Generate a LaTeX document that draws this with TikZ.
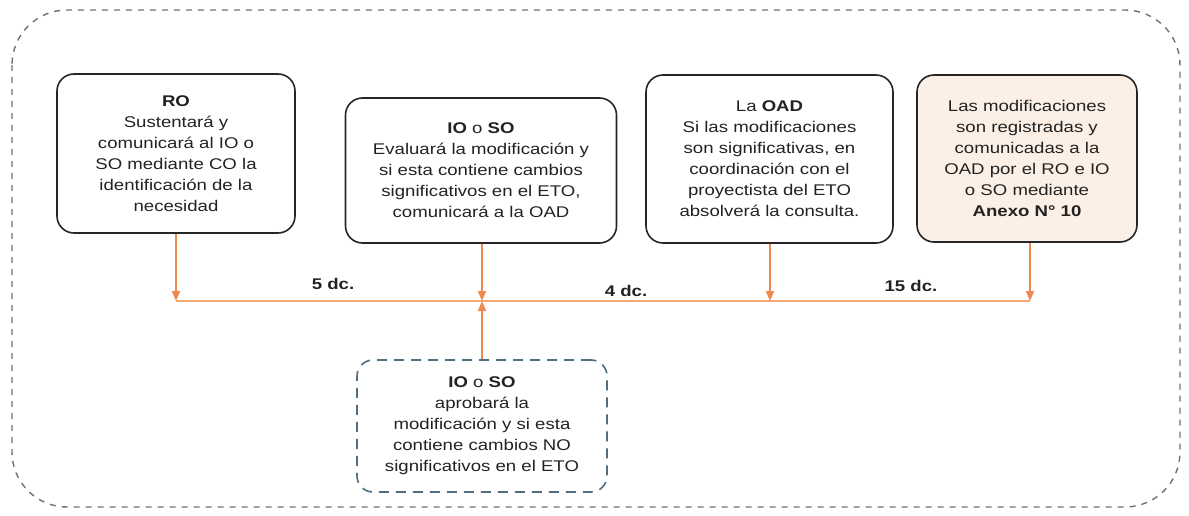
\documentclass[tikz,border=0pt]{standalone}
\usepackage{fontspec}
\setmainfont[FakeStretch=1.2]{Liberation Sans}
\usetikzlibrary{arrows.meta}
\definecolor{txt}{HTML}{222222}
\definecolor{orl}{HTML}{F3A877}
\definecolor{ora}{HTML}{EE8A50}
\definecolor{peach}{HTML}{FCF0E6}
\definecolor{bluedash}{HTML}{4F6E80}
\definecolor{outer}{HTML}{707070}
\tikzset{
  box/.style={draw=black!85, line width=1.6pt, rounded corners=17pt, align=center,
    text=txt, font=\fontsize{15.5}{21}\selectfont, inner sep=0pt},
  dbox/.style={draw=bluedash, line width=1.6pt, dash pattern=on 10pt off 7pt,
    rounded corners=16pt, align=center, text=txt, font=\fontsize{15.5}{21}\selectfont, inner sep=0pt},
  conn/.style={draw=ora, line width=1.5pt, -{Triangle[length=10pt,width=8pt]}},
  lbl/.style={font=\fontsize{15.5}{18}\selectfont\bfseries, text=txt},
}
\begin{document}
\begin{tikzpicture}[x=1pt,y=-1pt]
\useasboundingbox (0,0) rectangle (1189,516);
\draw[outer, line width=1.4pt, dash pattern=on 6pt off 6pt, rounded corners=55pt] (12,10) rectangle (1180,507);

\node[box, minimum width=238pt, minimum height=159pt] (ro) at (176,153.5)
  {\textbf{RO}\\Sustentará y\\comunicará al IO o\\SO mediante CO la\\identificación de la\\necesidad};
\node[box, minimum width=271pt, minimum height=145pt] (io) at (481,170.5)
  {\textbf{IO} o \textbf{SO}\\Evaluará la modificación y\\si esta contiene cambios\\significativos en el ETO,\\comunicará a la OAD};
\node[box, minimum width=247pt, minimum height=168pt] (oad) at (769.5,159)
  {La \textbf{OAD}\\Si las modificaciones\\son significativas, en\\coordinación con el\\proyectista del ETO\\absolverá la consulta.};
\node[box, fill=peach, minimum width=220pt, minimum height=167pt] (reg) at (1027,158.5)
  {Las modificaciones\\son registradas y\\comunicadas a la\\OAD por el RO e IO\\o SO mediante\\\textbf{Anexo N° 10}};
\node[dbox, minimum width=250pt, minimum height=132pt] (apr) at (482,426)
  {\textbf{IO} o \textbf{SO}\\aprobará la\\modificación y si esta\\contiene cambios NO\\significativos en el ETO};

\coordinate (l1) at (176,301);
\coordinate (l2) at (482,301);
\coordinate (l3) at (770,301);
\coordinate (l4) at (1030,301);
\draw[orl, line width=2pt] (l1) -- (l4);

\draw[conn] (ro.south -| l1) -- (l1);
\draw[conn] (io.south -| l2) -- (l2);
\draw[conn] (oad.south -| l3) -- (l3);
\draw[conn] (reg.south -| l4) -- (l4);
\draw[conn] (apr.north) -- (l2);

\node[lbl] (d5) at (333,284) {5 dc.};
\node[lbl] (d4) at (626,291) {4 dc.};
\node[lbl] (d15) at (911,286) {15 dc.};
\end{tikzpicture}
\end{document}
